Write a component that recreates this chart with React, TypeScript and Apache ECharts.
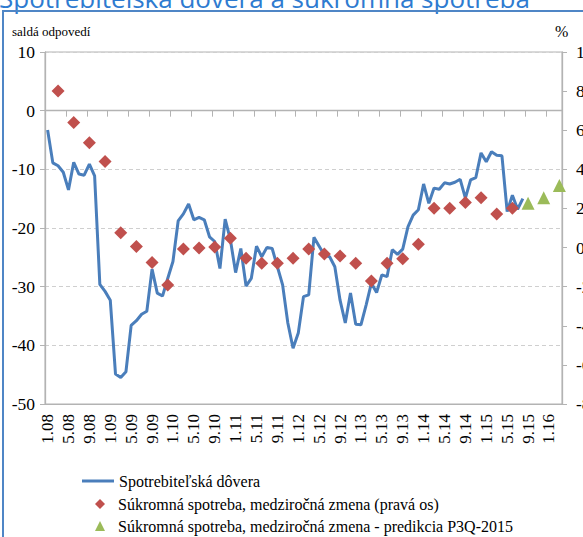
import React, { useEffect, useRef } from 'react';
import * as echarts from 'echarts';

// Monthly categories Jan 2008 .. Mar 2016 (labels shown every 4 months)
const monthCount = 99;
const months: string[] = Array.from({ length: monthCount }, (_, i) => {
  const m = (i % 12) + 1;
  const y = 8 + Math.floor(i / 12);
  return `${m}.${String(y).padStart(2, '0')}`;
});

// Spotrebiteľská dôvera (left axis), monthly from 1.08
const confidence: number[] = [
  -3.3, -8.9, -9.4, -10.5, -13.5, -8.8, -10.8, -11.0, -9.1, -11.1, -29.6, -30.8,
  -32.3, -44.9, -45.5, -44.5, -36.6, -35.8, -34.7, -34.2, -27.0, -31.1, -31.6, -28.6,
  -25.7, -18.8, -17.6, -15.9, -18.6, -18.2, -18.6, -21.5, -22.3, -26.9, -18.5, -22.0,
  -27.6, -23.5, -29.9, -28.6, -23.1, -24.9, -23.3, -23.5, -26.6, -29.7, -36.2, -40.5,
  -37.9, -31.7, -31.4, -21.6, -23.1, -24.6, -24.9, -26.6, -32.3, -36.2, -31.1, -36.4,
  -36.5, -33.1, -29.4, -31.0, -28.0, -28.3, -23.7, -24.5, -23.6, -19.8, -17.8, -16.9,
  -12.5, -15.8, -13.2, -13.4, -12.3, -12.5, -12.2, -11.7, -14.9, -11.8, -11.4, -7.2,
  -8.7, -7.0, -7.6, -7.7, -17.2, -14.4, -16.8, -15.0,
];

// Súkromná spotreba, medziročná zmena (right axis), quarterly Q1 2008 .. Q2 2015
const consumption: number[] = [
  8.0, 6.4, 5.36, 4.4, 0.76, 0.05, -0.77, -1.91, -0.07, -0.02,
  0.03, 0.47, -0.55, -0.8, -0.8, -0.55, -0.07, -0.33, -0.43, -0.8,
  -1.71, -0.8, -0.57, 0.17, 2.01, 2.01, 2.3, 2.55, 1.72, 2.01,
];

// Predikcia Q3 2015 .. Q1 2016 (right axis)
const forecast: number[] = [2.26, 2.55, 3.17];

const NAME_LINE = 'Spotrebiteľská dôvera';
const NAME_CONS = 'Súkromná spotreba, medziročná zmena (pravá os)';
const NAME_FC = 'Súkromná spotreba, medziročná zmena - predikcia P3Q-2015';

const LINE_BLUE = '#4a7ebb';
const RED = '#c0504d';
const GREEN = '#9bbb59';
const AXIS_GRAY = '#b3b3b3';
const SERIF = "'Liberation Serif', 'Times New Roman', 'DejaVu Serif', serif";

const firstQuarterMonth = 2; // quarterly points placed at the third month of each quarter
const consumptionData = consumption.map((v, k) => [firstQuarterMonth + 3 * k, v]);
const forecastData = forecast.map((v, k) => [firstQuarterMonth + 3 * (consumption.length + k), v]);

const legendText = { fontFamily: SERIF, fontSize: 16, color: '#000', lineHeight: 16 };

const option: any = {
  animation: false,
  backgroundColor: '#ffffff',
  grid: {
    left: 45,
    right: 21,
    top: 52,
    bottom: 133,
    containLabel: false,
    outerBoundsMode: 'none',
    show: true,
    borderColor: AXIS_GRAY,
    borderWidth: 1,
    backgroundColor: 'transparent',
  },
  graphic: [
    {
      type: 'text',
      x: -1,
      y: -2,
      style: {
        text: 'Spotrebiteľská dôvera a súkromná spotreba',
        fill: '#2e7bd0',
        fontSize: 26,
        fontFamily: "'Open Sans', 'Noto Sans', sans-serif",
        verticalAlign: 'middle',
        align: 'left',
      },
    },
    {
      type: 'rect',
      shape: { x: 3, y: 11, width: 620, height: 620 },
      style: { fill: 'none', stroke: '#4f86c6', lineWidth: 2 },
    },
    {
      type: 'text',
      x: 12,
      y: 31,
      style: {
        text: 'saldá odpovedí',
        fill: '#000',
        fontSize: 13,
        fontFamily: SERIF,
        verticalAlign: 'middle',
        align: 'left',
      },
    },
    {
      type: 'text',
      x: 555,
      y: 31,
      style: {
        text: '%',
        fill: '#000',
        fontSize: 16,
        fontFamily: SERIF,
        verticalAlign: 'middle',
        align: 'left',
      },
    },
  ],
  legend: [
    {
      orient: 'vertical',
      left: 77,
      top: 468,
      itemWidth: 32,
      itemHeight: 3,
      icon: 'rect',
      textStyle: legendText,
      data: [NAME_LINE],
    },
    {
      orient: 'vertical',
      left: 90,
      top: 491,
      itemWidth: 10,
      itemHeight: 10,
      icon: 'diamond',
      textStyle: { ...legendText, padding: [0, 0, 0, 8] },
      data: [NAME_CONS],
    },
    {
      orient: 'vertical',
      left: 90,
      top: 513,
      itemWidth: 10,
      itemHeight: 10,
      icon: 'triangle',
      textStyle: { ...legendText, padding: [0, 0, 0, 8] },
      data: [NAME_FC],
    },
  ],
  xAxis: [
    {
      type: 'category',
      data: months,
      position: 'bottom',
      boundaryGap: true,
      axisLine: { show: true, onZero: false, lineStyle: { color: AXIS_GRAY, width: 1 } },
      axisTick: { show: false },
      axisLabel: {
        interval: 3,
        rotate: 90,
        margin: 10,
        fontFamily: SERIF,
        fontSize: 17,
        color: '#000',
      },
      splitLine: { show: false },
    },
    {
      type: 'category',
      data: months,
      position: 'bottom',
      boundaryGap: true,
      axisLine: {
        show: true,
        onZero: true,
        onZeroAxisIndex: 0,
        lineStyle: { color: AXIS_GRAY, width: 1.3 },
      },
      axisTick: { show: true, interval: 3, length: 6, lineStyle: { color: AXIS_GRAY } },
      axisLabel: { show: false },
      splitLine: { show: false },
    },
  ],
  yAxis: [
    {
      type: 'value',
      min: -50,
      max: 10,
      interval: 10,
      position: 'left',
      axisLine: { show: true, lineStyle: { color: AXIS_GRAY, width: 1.3 } },
      axisTick: { show: true, length: 5, lineStyle: { color: AXIS_GRAY } },
      axisLabel: { margin: 10, fontFamily: SERIF, fontSize: 17.5, color: '#000' },
      splitLine: { show: true, lineStyle: { color: '#cfcfcf', type: [4, 3], width: 1 } },
    },
    {
      type: 'value',
      min: -8,
      max: 10,
      interval: 2,
      position: 'right',
      axisLine: { show: true, lineStyle: { color: AXIS_GRAY, width: 1.3 } },
      axisTick: { show: true, length: 5, lineStyle: { color: AXIS_GRAY } },
      axisLabel: { margin: 14, fontFamily: SERIF, fontSize: 17.5, color: '#000' },
      splitLine: { show: false },
    },
  ],
  series: [
    {
      name: NAME_LINE,
      type: 'line',
      xAxisIndex: 0,
      yAxisIndex: 0,
      data: confidence,
      symbol: 'none',
      showSymbol: false,
      lineStyle: { color: LINE_BLUE, width: 3 },
      itemStyle: { color: LINE_BLUE },
      z: 2,
    },
    {
      name: NAME_CONS,
      type: 'scatter',
      xAxisIndex: 0,
      yAxisIndex: 1,
      data: consumptionData,
      symbol: 'diamond',
      symbolSize: 13,
      itemStyle: { color: RED, opacity: 1 },
      z: 3,
    },
    {
      name: NAME_FC,
      type: 'scatter',
      xAxisIndex: 0,
      yAxisIndex: 1,
      data: forecastData,
      symbol: 'triangle',
      symbolSize: 13,
      itemStyle: { color: GREEN, opacity: 1 },
      z: 3,
    },
  ],
};

export default function App() {
  const ref = useRef<HTMLDivElement>(null);
  useEffect(() => {
    if (!ref.current) return;
    const chart = echarts.init(ref.current, null, { renderer: 'svg' });
    chart.setOption(option);
    return () => {
      chart.dispose();
    };
  }, []);
  return (
    <div
      ref={ref}
      style={{ position: 'fixed', left: 0, top: 0, width: 583, height: 537, background: '#fff' }}
    />
  );
}
